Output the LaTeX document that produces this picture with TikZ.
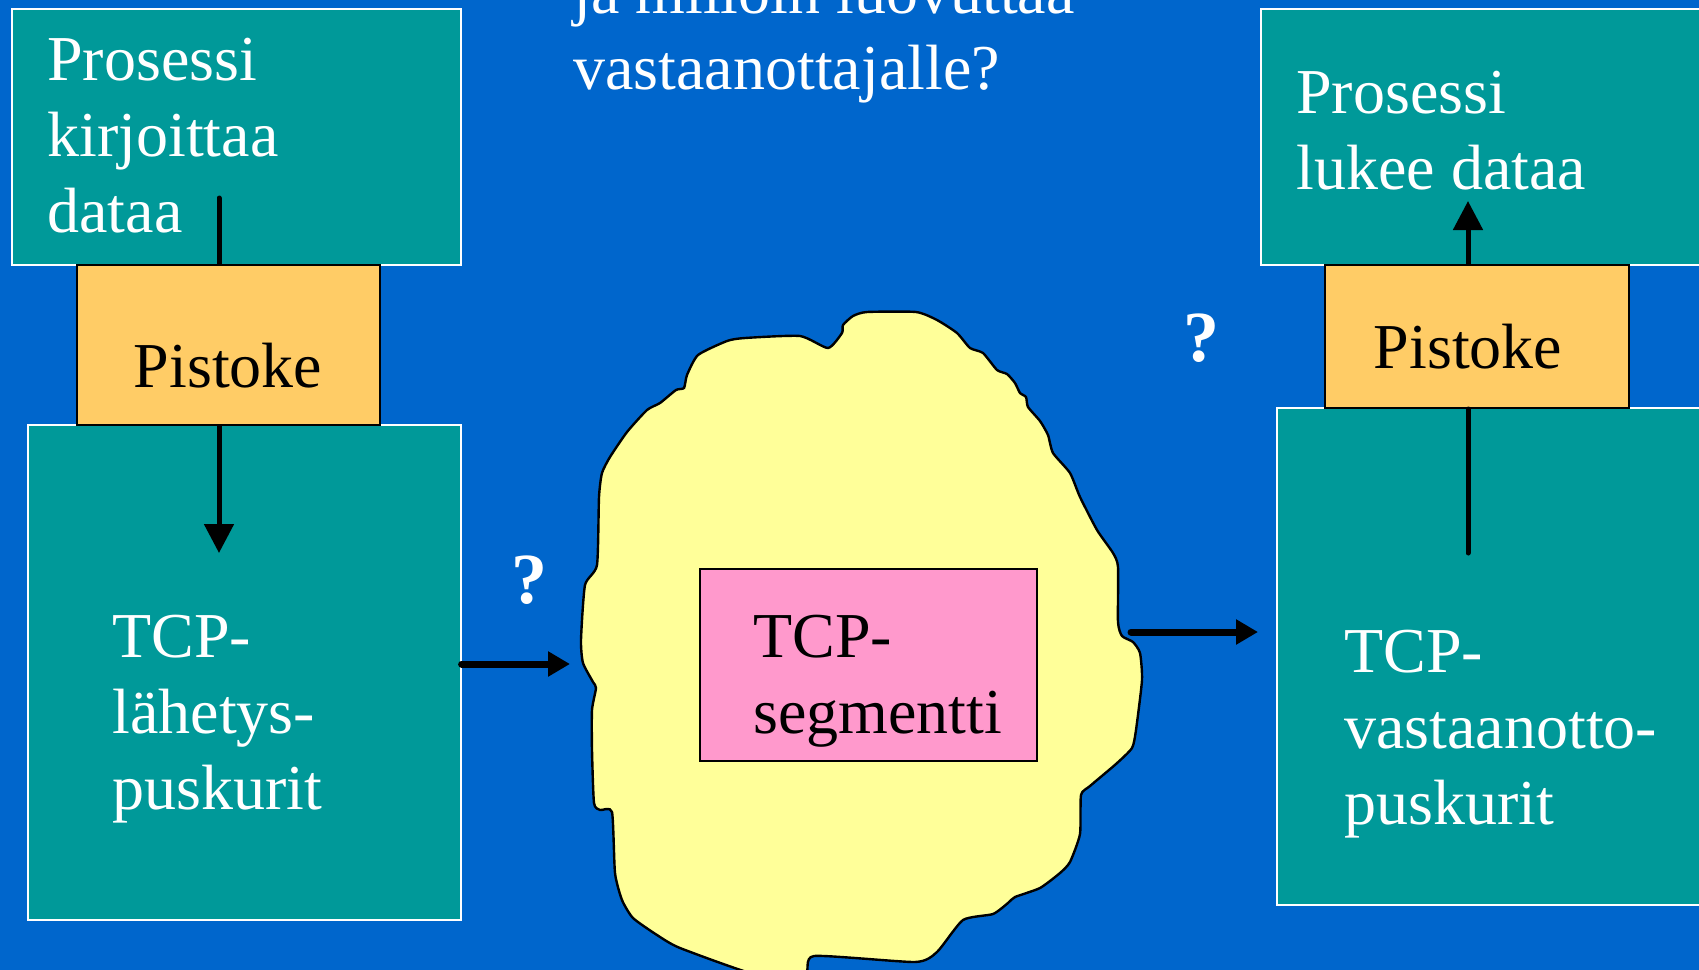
\documentclass[tikz,border=0pt]{standalone}
\usepackage{fontspec}
\setmainfont{Liberation Serif}
\usetikzlibrary{arrows.meta,positioning}
\definecolor{slidebg}{RGB}{0,102,204}
\definecolor{procteal}{RGB}{0,153,153}
\definecolor{sockgold}{RGB}{255,204,102}
\definecolor{netyellow}{RGB}{255,255,153}
\definecolor{segpink}{RGB}{255,153,204}
\tikzstyle{procbox}=[draw=white,fill=procteal,line width=0.8pt,anchor=north west,inner sep=0pt]
\tikzstyle{sockbox}=[draw=black,fill=sockgold,line width=1pt,anchor=north west,inner sep=0pt]
\tikzstyle{segbox}=[draw=black,fill=segpink,line width=1pt,anchor=north west,inner sep=0pt]
\tikzstyle{boxtext}=[anchor=base west,inner sep=0pt,align=left,text=white,font=\fontsize{32}{38}\selectfont]
\tikzstyle{socktext}=[anchor=base,inner sep=0pt,font=\fontsize{32}{38}\selectfont]
\tikzstyle{query}=[text=white,inner sep=0pt,font=\fontsize{36}{40}\selectfont\bfseries]
\tikzstyle{flow}=[line width=2.5pt,-{Triangle[length=14.5pt,width=14.5pt]}]
\tikzstyle{flowh}=[line width=3.5pt,line cap=round,-{Triangle[length=11pt,width=12pt]}]

\begin{document}
\begin{tikzpicture}[x=0.5pt,y=-0.5pt]
    \useasboundingbox (0,0) rectangle (1699,970);
    \clip (0,0) rectangle (1699,970);
    \fill[slidebg] (0,0) rectangle (1699,970);

    % sender side (text nodes sit on the baseline of their last line)
    \node [procbox,minimum width=224.5pt,minimum height=128pt] (procL) at (11,8) {};
    \node [procbox,minimum width=216.5pt,minimum height=247.5pt] (bufL) at (27,424) {};
    \node [boxtext] (procLtxt) at (47,232) {Prosessi\\kirjoittaa\\dataa};
    \node [boxtext] (bufLtxt) at (112,809) {TCP-\\lähetys-\\puskurit};
    \coordinate (writeL) at (219,198);
    \coordinate (intoL) at (219,553);
    \draw [line width=2.5pt,line cap=round] (writeL) -- (writeL |- 0,264);
    \node [sockbox,minimum width=151.5pt,minimum height=80pt] (sockL) at (76,264) {};
    \node [socktext] (sockLtxt) at (228,387) {Pistoke};
    \draw [flow] (intoL |- sockL.south) -- (intoL);

    % receiver side
    \node [procbox,minimum width=230pt,minimum height=128pt] (procR) at (1260,8) {};
    \node [procbox,minimum width=222pt,minimum height=248.5pt] (bufR) at (1276,407) {};
    \node [boxtext] (procRtxt) at (1296,189) {Prosessi\\lukee dataa};
    \node [boxtext] (bufRtxt) at (1344,824) {TCP-\\vastaanotto-\\puskurit};
    \coordinate (readR) at (1468,201);
    \coordinate (fromR) at (1468,553);
    \node [sockbox,minimum width=152pt,minimum height=71.5pt] (sockR) at (1324,264) {};
    \node [socktext] (sockRtxt) at (1468,368) {Pistoke};
    \draw [line width=2.5pt,line cap=round] (fromR) -- (fromR |- sockR.south);
    \draw [flow] (readR |- sockR.north) -- (readR);

    % network cloud
    \draw [fill=netyellow,line width=1.2pt] plot [smooth cycle,tension=0.35] coordinates {
      (867,312) (916,312) (937,320) (957,333) (970,348) (983,353) (997,370)
      (1007,374) (1015,383) (1020,393) (1026,397) (1028,407) (1040,421)
      (1048,435) (1053,453) (1070,473) (1080,497) (1097,530) (1113,553)
      (1118,567) (1118,622) (1122,636) (1133,642) (1140,653) (1142,680)
      (1136,730) (1132,748) (1116,764) (1090,786) (1081,795) (1080,834)
      (1070,862) (1060,873) (1040,888) (1015,897) (1008,903) (993,914)
      (963,920) (937,952) (915,962) (814,956) (805,975) (757,975) (680,948)
      (657,935) (633,918) (622,900) (615,873) (612,812) (600,810) (594,803)
      (592,750) (592,710) (596,688) (593,682) (583,663) (581,640) (585,585)
      (597,565) (599,497) (602,473) (610,457) (627,432) (647,410) (660,403)
      (676,390) (684,388) (687,375) (698,355) (727,341) (745,338) (800,336)
      (828,348) (842,333) (843,325) (853,316)};
    \node [segbox,minimum width=168.5pt,minimum height=96pt] (seg) at (699,568) {};
    \node [boxtext,text=black] (segtxt) at (753,733) {TCP-\\segmentti};

    % transfers
    \coordinate (netIn) at (570,664);
    \coordinate (netOut) at (1131,632);
    \coordinate (intoR) at (1258,632);
    \draw [flowh] (bufL.east |- netIn) -- (netIn);
    \draw [flowh] (netOut) -- (intoR);
    \node [query] (qIn) at (529,580) {?};
    \node [query] (qOut) at (1201,338) {?};

    % question at the top
    \node [boxtext] (asktxt) at (573,89) {ja milloin luovuttaa\\vastaanottajalle?};
\end{tikzpicture}
\end{document}
